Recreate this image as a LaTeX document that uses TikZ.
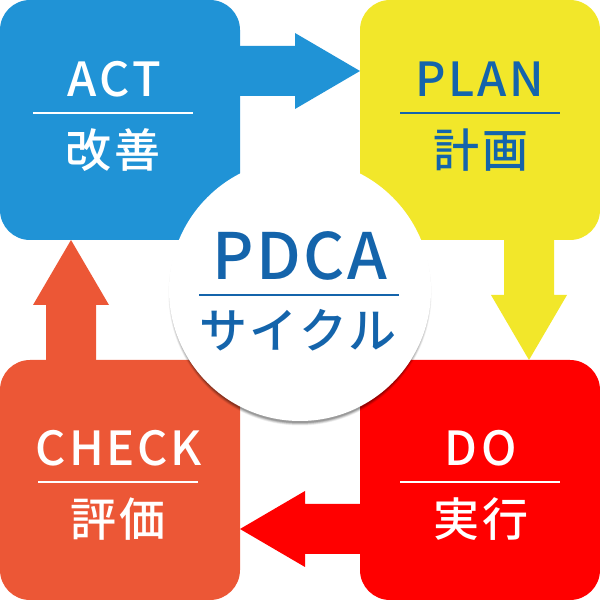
\documentclass[tikz,border=0pt]{standalone}
\usepackage{fontspec}
\setmainfont{Noto Sans CJK JP Medium}
\usetikzlibrary{calc}
\definecolor{actc}{HTML}{2093D6}
\definecolor{planc}{HTML}{F2E72A}
\definecolor{doc}{HTML}{FF0000}
\definecolor{chkc}{HTML}{EC5736}
\definecolor{inkb}{HTML}{1464AB}
\tikzset{
 x=1pt,y=1pt,
 stagebox/.style={minimum size=240pt,inner sep=0pt,rounded corners=30pt,line width=0pt},
 en/.style={font=\fontsize{47}{47}\selectfont,inner sep=0pt,anchor=base},
 ja/.style={font=\fontsize{46}{46}\selectfont,inner sep=0pt,anchor=base},
}
\newcommand{\spc}[2]{\addfontfeature{LetterSpace=#1}#2}
\begin{document}
\begin{tikzpicture}
\useasboundingbox (0,0) rectangle (600,600);
\node[stagebox,fill=actc] (act) at (120,480) {};
\node[stagebox,fill=planc] (plan) at (480,480) {};
\node[stagebox,fill=doc] (do) at (480,120) {};
\node[stagebox,fill=chkc] (check) at (120,120) {};
% arrows
\fill[actc] ([yshift=74pt]act.east) -- ++(55,0) -- ++(0,13) -- ([yshift=49pt]plan.west) -- ++(-65,-38) -- ++(0,13) -- ([yshift=24pt]act.east) -- cycle;
\fill[planc] ([xshift=74pt]plan.south) -- ++(0,-55) -- ++(13,0) -- ([xshift=49pt]do.north) -- ++(-38,65) -- ++(13,0) -- ([xshift=24pt]plan.south) -- cycle;
\fill[doc] ([yshift=-24pt]do.west) -- ++(-55,0) -- ++(0,13) -- ([yshift=-49pt]check.east) -- ++(65,-38) -- ++(0,13) -- ([yshift=-74pt]do.west) -- cycle;
\fill[chkc] ([xshift=-24pt]check.north) -- ++(0,55) -- ++(13,0) -- ([xshift=-49pt]act.south) -- ++(-38,-65) -- ++(13,0) -- ([xshift=-74pt]check.north) -- cycle;
% centre
\coordinate (cc) at (300,310);
\foreach \r/\o in {131.5/.05,131/.06,130.5/.07,130/.08,129.5/.1,129/.12}{
  \fill[black,opacity=\o] ($(cc)+(0,-4)$) circle (\r);}
\node[circle,fill=white,minimum size=262pt,inner sep=0pt] (hub) at (cc) {};
% rules
\draw[white,line width=1.5pt] (33,487) -- (193,487);
\draw[inkb,line width=1.5pt] (400,487) -- (560,487);
\draw[white,line width=1.5pt] (400,118) -- (560,118);
\draw[white,line width=1.5pt] (38,118) -- (198,118);
\draw[inkb,line width=1.5pt] (199,305) -- (399,305);
% text
\node[en,text=white] (t1) at (114,503) {\spc{7}{ACT}};
\node[ja,text=white] (t2) at (113,432) {\spc{6}{改善}};
\node[en,text=inkb] (t3) at (480,503) {\spc{6}{PLAN}};
\node[ja,text=inkb] (t4) at (481,432) {\spc{6}{計画}};
\node[en,text=white] (t5) at (481,134) {\spc{8}{DO}};
\node[ja,text=white] (t6) at (481,63) {\spc{6}{実行}};
\node[en,text=white] (t7) at (119,134) {\spc{6}{CHECK}};
\node[ja,text=white] (t8) at (118,63) {\spc{6}{評価}};
\node[inner sep=0pt,anchor=base,text=inkb,font=\fontsize{64}{64}\selectfont] (t9) at (300,320) {\spc{4}{PDCA}};
\node[inner sep=0pt,anchor=base,text=inkb,font=\fontsize{48}{48}\selectfont] (t10) at (298,251) {\spc{5}{サイクル}};
\end{tikzpicture}
\end{document}
